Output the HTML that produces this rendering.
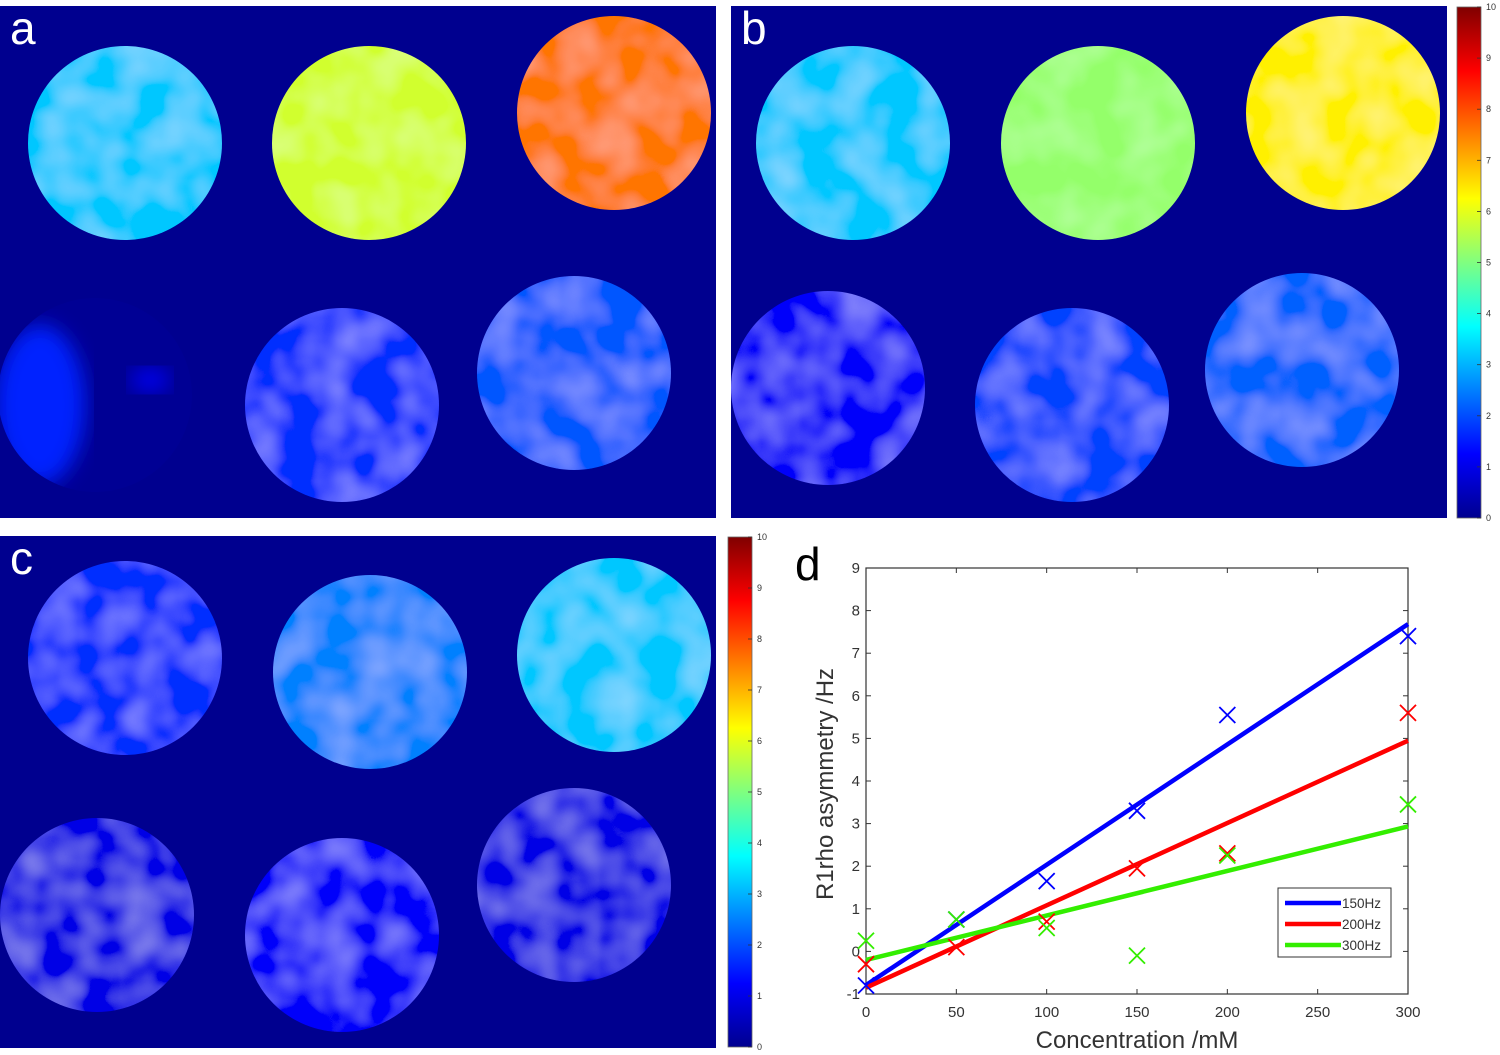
<!DOCTYPE html>
<html><head><meta charset="utf-8"><style>
html,body{margin:0;padding:0;background:#fff;}
svg{display:block;font-family:"Liberation Sans",sans-serif;}
</style></head><body>
<svg id="fig" width="1500" height="1055" viewBox="0 0 1500 1055">
<defs>
<filter id="tex" x="-10%" y="-10%" width="120%" height="120%">
<feTurbulence type="fractalNoise" baseFrequency="0.025" numOctaves="2" seed="3" result="n"/>
<feColorMatrix in="n" type="matrix" values="0 0 0 0 1  0 0 0 0 1  0 0 0 0 1  0.4 0 0 0 -0.15" result="m"/>
<feComposite in="m" in2="SourceGraphic" operator="in" result="c"/>
<feMerge><feMergeNode in="SourceGraphic"/><feMergeNode in="c"/></feMerge>
</filter>
<filter id="blur"><feGaussianBlur stdDeviation="10"/></filter>
<clipPath id="clipA4"><circle cx="95" cy="395" r="97"/></clipPath>
<linearGradient id="jet" x1="0" y1="1" x2="0" y2="0">
<stop offset="0" stop-color="#00008f"/><stop offset="0.125" stop-color="#0000ff"/>
<stop offset="0.375" stop-color="#00ffff"/><stop offset="0.625" stop-color="#ffff00"/>
<stop offset="0.875" stop-color="#ff0000"/><stop offset="1" stop-color="#800000"/>
</linearGradient>
</defs>
<g id="maps"></g>
<g id="plot"></g>
</svg>
<script>
// ---- map panel data (mean value of each phantom, 0-10 scale) ----
const panelNames = ['a','b','c'];
const panelValuesA = [3.2, 5.8, 7.6, 0.2, 1.7, 2.1];
const panelValuesB = [3.2, 5.2, 6.4, 1.2, 1.9, 2.2];
const panelValuesC = [1.7, 2.5, 3.2, 1.0, 1.2, 1.0];
const cbTicks = [0,1,2,3,4,5,6,7,8,9,10];

// ---- chart d data ----
const concentrations = [0, 50, 100, 150, 200, 300];
const r150 = [-0.8, 0.75, 1.65, 3.3, 5.55, 7.4];
const r200 = [-0.3, 0.1, 0.7, 1.95, 2.3, 5.6];
const r300 = [0.25, 0.75, 0.55, -0.1, 2.25, 3.45];
const seriesLabels = ['150Hz','200Hz','300Hz'];
const xTicks = [0, 50, 100, 150, 200, 250, 300];
const yTicks = [-1, 0, 1, 2, 3, 4, 5, 6, 7, 8, 9];

const NS = 'http://www.w3.org/2000/svg';
function mk(tag, attrs, parent){const e=document.createElementNS(NS,tag);for(const k in attrs)e.setAttribute(k,attrs[k]);parent.appendChild(e);return e;}
function jet(v){
  const t=Math.max(0,Math.min(1,v/10));
  const f=x=>Math.max(0,Math.min(1,x));
  const r=f(Math.min(4*t-1.5,-4*t+4.5)),g=f(Math.min(4*t-0.5,-4*t+3.5)),b=f(Math.min(4*t+0.5,-4*t+2.5));
  return `rgb(${Math.round(r*255)},${Math.round(g*255)},${Math.round(b*255)})`;
}

const maps=document.getElementById('maps');
const panels=[
  {x:0,y:6,vals:panelValuesA,circ:[[125,143],[369,143],[614,113],[95,395],[342,405],[574,373]]},
  {x:731,y:6,vals:panelValuesB,circ:[[853,143],[1098,143],[1343,113],[828,388],[1072,405],[1302,370]]},
  {x:0,y:536,vals:panelValuesC,circ:[[125,658],[370,672],[614,655],[97,915],[342,935],[574,885]]}
];
panels.forEach((p,i)=>{
  const g=mk('g',{},maps);
  
  
  mk('rect',{x:p.x,y:p.y,width:716,height:512,fill:'#00008f'},g);
  p.circ.forEach((c,j)=>{
    const partial=(i===0&&j===3);
    const ci=mk('circle',{cx:c[0],cy:c[1],r:97,fill:jet(p.vals[j]),filter:partial?'':'url(#tex)'},g);
    
    
    if(partial){
      const cg=mk('g',{'clip-path':'url(#clipA4)'},g);
      mk('ellipse',{cx:c[0]-55,cy:c[1]+10,rx:45,ry:80,fill:jet(1.6),filter:'url(#blur)'},cg);
      mk('ellipse',{cx:c[0]+55,cy:c[1]-15,rx:20,ry:12,fill:jet(1.1),filter:'url(#blur)'},cg);
    }
  });
  const t=mk('text',{x:p.x+10,y:p.y+38,'font-size':46,fill:'#fff'},g);
  
  
  t.textContent=panelNames[i];
});

function colorbar(x,y0,y1,name){
  const g=mk('g',{},maps);
  
  
  mk('rect',{x:x,y:y0,width:24,height:y1-y0,fill:'url(#jet)',stroke:'#666','stroke-width':0.8},g);
  cbTicks.forEach(v=>{
    const yy=y1-(y1-y0)*v/10;
    mk('line',{x1:x+20,x2:x+24,y1:yy,y2:yy,stroke:'#333','stroke-width':0.8},g);
    const t=mk('text',{x:x+29,y:yy+3,'font-size':9,fill:'#333'},g);
    t.textContent=v;
  });
}
colorbar(1457,7,518,'colorbar-top');
colorbar(728,537,1047,'colorbar-bottom');

// ---- chart d ----
const plot=document.getElementById('plot');
const X0=866,X1=1408,Y0=994,Y1=568;
const sx=v=>X0+(X1-X0)*v/300;
const sy=v=>Y0-(Y0-Y1)*(v+1)/10;
mk('rect',{x:X0,y:Y1,width:X1-X0,height:Y0-Y1,fill:'#fff',stroke:'#333','stroke-width':1.2},plot);
const dl=mk('text',{x:795,y:580,'font-size':46,fill:'#000'},plot);


dl.textContent='d';
xTicks.forEach(v=>{
  const x=sx(v);
  mk('line',{x1:x,x2:x,y1:Y0,y2:Y0-5,stroke:'#333'},plot);
  mk('line',{x1:x,x2:x,y1:Y1,y2:Y1+5,stroke:'#333'},plot);
  const t=mk('text',{x:x,y:Y0+23,'font-size':15,fill:'#333','text-anchor':'middle'},plot);
  
  
  t.textContent=v;
});
yTicks.forEach(v=>{
  const y=sy(v);
  mk('line',{x1:X0,x2:X0+5,y1:y,y2:y,stroke:'#333'},plot);
  mk('line',{x1:X1,x2:X1-5,y1:y,y2:y,stroke:'#333'},plot);
  const t=mk('text',{x:X0-6,y:y+5,'font-size':15,fill:'#333','text-anchor':'end'},plot);
  
  
  t.textContent=v;
});
const xt=mk('text',{x:(X0+X1)/2,y:1048,'font-size':24,fill:'#333','text-anchor':'middle'},plot);


xt.textContent='Concentration /mM';
const yt=mk('text',{x:0,y:0,'font-size':24,fill:'#333','text-anchor':'middle',transform:`translate(833,${(Y0+Y1)/2+3}) rotate(-90)`},plot);


yt.textContent='R1rho asymmetry /Hz';

const series=[r150,r200,r300];
const colors=['#0000ff','#ff0000','#33ee00'];
function fit(ys){
  const n=ys.length,mx=concentrations.reduce((a,b)=>a+b)/n,my=ys.reduce((a,b)=>a+b)/n;
  let sxy=0,sxx=0;concentrations.forEach((x,i)=>{sxy+=(x-mx)*(ys[i]-my);sxx+=(x-mx)**2;});
  const m=sxy/sxx;return [my-m*mx,m];
}
series.forEach((ys,k)=>{
  const [b,m]=fit(ys);
  const ln=mk('line',{x1:sx(0),y1:sy(b),x2:sx(300),y2:sy(b+m*300),stroke:colors[k],'stroke-width':4.5},plot);
  
  
});
series.forEach((ys,k)=>{
  ys.forEach((v,i)=>{
    const x=sx(concentrations[i]),y=sy(v),d=8;
    const p=mk('path',{d:`M${x-d},${y-d}L${x+d},${y+d}M${x-d},${y+d}L${x+d},${y-d}`,stroke:colors[k],'stroke-width':1.8,fill:'none'},plot);
    
    
  });
});
const lg=mk('g',{},plot);


mk('rect',{x:1278,y:888,width:113,height:69,fill:'#fff',stroke:'#333','stroke-width':1},lg);
seriesLabels.forEach((s,k)=>{
  const y=903+k*21;
  mk('line',{x1:1285,x2:1341,y1:y,y2:y,stroke:colors[k],'stroke-width':4.5},lg);
  const t=mk('text',{x:1342,y:y+5,'font-size':13.5,fill:'#333'},lg);
  
  
  t.textContent=s;
});
</script>
</body></html>
